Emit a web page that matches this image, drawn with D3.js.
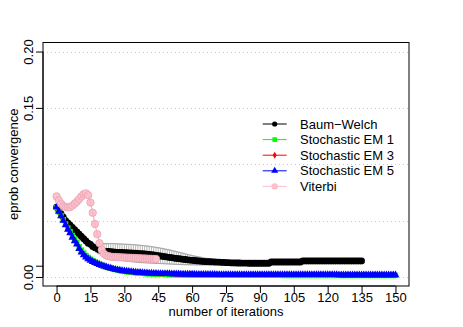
<!DOCTYPE html>
<html><head><meta charset="utf-8">
<script src="https://cdn.jsdelivr.net/npm/d3@7"></script>
<style>
body{margin:0;background:#fff}
svg{display:block}
text{font-family:"Liberation Sans",Arial,Helvetica,sans-serif;font-size:13px;fill:#000}
</style>
</head><body>
<svg id="chart" width="463" height="327"></svg>
<script>
// ---------- data ----------
const seriesNames = ["Baum\u2212Welch","Stochastic EM 1","Stochastic EM 3","Stochastic EM 5","Viterbi"];
const seriesColors = ["#000000","#00ff00","#ff0000","#0000ff","#ffc0cb"];

const xTicks = [0,15,30,45,60,75,90,105,120,135,150];
const yTicks = [0,0.01,0.15,0.2];
const yTickLabels = ["0.00","","0.15","0.20"];
const gridValues = [0,0.05,0.1,0.15,0.2];

const baumWelch = [
0.062,0.059,0.056,0.053,0.05,0.048,0.046,0.044,0.042,0.04,
0.038,0.036,0.034,0.032,0.03,0.029,0.027,0.026,0.025,0.024,
0.0235,0.023,0.0228,0.0226,0.0224,0.0222,0.022,0.0219,0.0218,0.0217,
0.0216,0.0215,0.0214,0.0213,0.0212,0.0211,0.021,0.0208,0.0206,0.0204,
0.0202,0.02,0.0198,0.0195,0.0192,0.0189,0.0186,0.0183,0.018,0.0177,
0.0174,0.0171,0.0168,0.0165,0.0162,0.016,0.0157,0.0155,0.0152,0.015,
0.0148,0.0146,0.0144,0.0142,0.014,0.0138,0.0137,0.0136,0.0135,0.0134,
0.0133,0.0132,0.0131,0.013,0.0129,0.0128,0.0127,0.0126,0.0125,0.0125,
0.0124,0.0124,0.0123,0.0123,0.0123,0.0122,0.0122,0.0122,0.0122,0.0122,
0.0122,0.0122,0.0122,0.0122,0.0122,0.0133,0.0133,0.0133,0.0133,0.0133,
0.0133,0.0133,0.0133,0.0133,0.0133,0.0133,0.0133,0.0133,0.0133,0.0142,
0.0142,0.0142,0.0142,0.0142,0.0142,0.0142,0.0142,0.0142,0.0142,0.0142,
0.0142,0.0142,0.0142,0.0142,0.0142,0.0142,0.0142,0.0142,0.0142,0.0142,
0.0142,0.0142,0.0142,0.0142,0.0142,0.0142];

const stochEM1 = [
0.0615,0.058,0.0545,0.0508,0.047,0.0433,0.0402,0.0368,0.0337,0.0307,
0.0268,0.0238,0.0212,0.019,0.0173,0.0158,0.0145,0.0133,0.0122,0.0113,
0.0105,0.0097,0.009,0.0083,0.0077,0.0071,0.0066,0.0061,0.0057,0.0053,
0.005,0.0047,0.0044,0.0042,0.004,0.0038,0.0036,0.0034,0.0033,0.0031,
0.003,0.0029,0.0028,0.0027,0.0026,0.0025,0.0024,0.0023,0.0023,0.0022,
0.0022,0.0021,0.0021,0.002,0.002,0.002,0.0019,0.0019,0.0019,0.0018,
0.0018,0.0018,0.0018,0.0017,0.0017,0.0017,0.0017,0.0016,0.0016,0.0016,
0.0016,0.0016,0.0016,0.0016,0.0016,0.0015,0.0015,0.0015,0.0015,0.0015,
0.0015,0.0015,0.0015,0.0015,0.0015,0.0015,0.0015,0.0015,0.0015,0.0015,
0.0015,0.0015,0.0015,0.0015,0.0015,0.0015,0.0015,0.0015,0.0015,0.0015,
0.0014,0.0014,0.0014,0.0014,0.0014,0.0014,0.0014,0.0014,0.0014,0.0014,
0.0014,0.0014,0.0014,0.0014,0.0014,0.0014,0.0014,0.0014,0.0014,0.0014,
0.0014,0.0014,0.0014,0.0014,0.0014,0.0014,0.0014,0.0014,0.0014,0.0014,
0.0014,0.0014,0.0014,0.0014,0.0014,0.0014,0.0014,0.0014,0.0014,0.0014,
0.0014,0.0014,0.0014,0.0014,0.0014,0.0014,0.0014,0.0014,0.0014,0.0014,
0.0014];

const stochEM3 = [
0.0618,0.058,0.0542,0.0503,0.0465,0.0426,0.0395,0.0358,0.0327,0.0297,
0.0258,0.0228,0.0203,0.0182,0.0166,0.0152,0.014,0.0129,0.0119,0.0111,
0.0103,0.0096,0.0089,0.0083,0.0078,0.0073,0.0068,0.0064,0.006,0.0057,
0.0054,0.0051,0.0049,0.0047,0.0045,0.0043,0.0041,0.004,0.0038,0.0037,
0.0036,0.0035,0.0034,0.0033,0.0032,0.0031,0.0031,0.003,0.003,0.0029,
0.0029,0.0028,0.0028,0.0027,0.0027,0.0026,0.0026,0.0026,0.0025,0.0025,
0.0025,0.0025,0.0024,0.0024,0.0024,0.0024,0.0023,0.0023,0.0023,0.0023,
0.0023,0.0022,0.0022,0.0022,0.0022,0.0022,0.0022,0.0021,0.0021,0.0021,
0.0021,0.0021,0.0021,0.0021,0.0021,0.0021,0.0021,0.0021,0.0021,0.0021,
0.0021,0.0021,0.0021,0.0021,0.0021,0.0021,0.0021,0.0021,0.0021,0.0021,
0.002,0.002,0.002,0.002,0.002,0.002,0.002,0.002,0.002,0.002,
0.002,0.002,0.002,0.002,0.002,0.002,0.002,0.002,0.002,0.002,
0.002,0.002,0.002,0.002,0.002,0.0019,0.0019,0.0019,0.0019,0.0019,
0.0019,0.0019,0.0019,0.0019,0.0019,0.0019,0.0019,0.0019,0.0019,0.0019,
0.0019,0.0019,0.0019,0.0019,0.0019,0.0019,0.0019,0.0019,0.0019,0.0019,
0.0019];

const stochEM5 = [
0.062,0.058,0.054,0.05,0.046,0.042,0.039,0.035,0.032,0.029,
0.025,0.022,0.0195,0.0175,0.016,0.0147,0.0136,0.0126,0.0117,0.0109,
0.0102,0.0095,0.0088,0.0082,0.0077,0.0072,0.0067,0.0063,0.0059,0.0056,
0.0053,0.005,0.0048,0.0046,0.0044,0.0042,0.004,0.0039,0.0037,0.0036,
0.0035,0.0034,0.0033,0.0032,0.0031,0.003,0.003,0.0029,0.0029,0.0028,
0.0028,0.0027,0.0027,0.0026,0.0026,0.0025,0.0025,0.0025,0.0024,0.0024,
0.0024,0.0024,0.0023,0.0023,0.0023,0.0023,0.0022,0.0022,0.0022,0.0022,
0.0022,0.0021,0.0021,0.0021,0.0021,0.0021,0.0021,0.002,0.002,0.002,
0.002,0.002,0.002,0.002,0.002,0.002,0.002,0.002,0.002,0.002,
0.002,0.002,0.002,0.002,0.002,0.002,0.002,0.002,0.002,0.002,
0.0019,0.0019,0.0019,0.0019,0.0019,0.0019,0.0019,0.0019,0.0019,0.0019,
0.0019,0.0019,0.0019,0.0019,0.0019,0.0019,0.0019,0.0019,0.0019,0.0019,
0.0019,0.0019,0.0019,0.0019,0.0019,0.0018,0.0018,0.0018,0.0018,0.0018,
0.0018,0.0018,0.0018,0.0018,0.0018,0.0018,0.0018,0.0018,0.0018,0.0018,
0.0018,0.0018,0.0018,0.0018,0.0018,0.0018,0.0018,0.0018,0.0018,0.0018,
0.0018];

const viterbi = [
0.0715,0.068,0.065,0.063,0.062,0.0618,0.062,0.0633,0.065,0.0668,
0.069,0.0715,0.0735,0.0742,0.0725,0.066,0.057,0.047,0.038,0.03,
0.024,0.0205,0.019,0.0185,0.018,0.0178,0.0177,0.0176,0.0175,0.0174,
0.0173,0.0172,0.0171,0.017,0.0169,0.0168,0.0167,0.0166,0.0165,0.0164,
0.0163,0.0162,0.0161,0.016,0.016];

// Baum-Welch error bars (iterations 18..68)
const errStart = 18;
const errHigh = [
0.0285,0.029,0.0293,0.0295,0.0296,0.0296,0.0296,0.0296,0.0295,0.0294,
0.0293,0.0292,0.0291,0.029,0.0289,0.0288,0.0287,0.0285,0.0283,0.0281,
0.0279,0.0277,0.0275,0.0272,0.0269,0.0266,0.0263,0.026,0.0256,0.0252,
0.0248,0.0244,0.024,0.0235,0.023,0.0225,0.022,0.0215,0.021,0.0205,
0.02,0.0195,0.019,0.0186,0.0182,0.0178,0.0174,0.017,0.0166,0.0163,
0.016];
const errLow = [
0.0215,0.0205,0.0195,0.0187,0.018,0.0174,0.0168,0.0163,0.0158,0.0154,
0.015,0.0147,0.0144,0.0141,0.0138,0.0136,0.0134,0.0132,0.013,0.0128,
0.0127,0.0126,0.0125,0.0124,0.0123,0.0122,0.0121,0.012,0.0119,0.0118,
0.0117,0.0116,0.0115,0.0114,0.0113,0.0112,0.0111,0.011,0.011,0.0109,
0.0109,0.0108,0.0108,0.0108,0.0107,0.0107,0.0107,0.0107,0.0107,0.0107,
0.0107];

// ---------- layout ----------
const svg = d3.select("#chart");
const box = {l:43, r:409, t:42.5, b:286};
const xlim = [0,150], ylim = [0,0.2];
const xp = 0.04*(xlim[1]-xlim[0]), yp = 0.04*(ylim[1]-ylim[0]);
const x = d3.scaleLinear().domain([xlim[0]-xp, xlim[1]+xp]).range([box.l, box.r]);
const y = d3.scaleLinear().domain([ylim[0]-yp, ylim[1]+yp]).range([box.b, box.t]);
const FONT = '"Liberation Sans",Arial,sans-serif';

// grid
svg.append("g").selectAll("line").data(gridValues).join("line")
  .attr("x1", box.l).attr("x2", box.r)
  .attr("y1", d => Math.round(y(d))+0.5).attr("y2", d => Math.round(y(d))+0.5)
  .attr("stroke", "#c8c8c8").attr("stroke-width", 1).attr("stroke-dasharray", "1,3");

// error bars
const eb = svg.append("g").attr("stroke", "#9a9a9a").attr("stroke-width", 0.7).attr("fill","none");
errHigh.forEach((hi, k) => {
  const it = errStart + k, lo = errLow[k], cx = x(it);
  eb.append("line").attr("x1", cx).attr("x2", cx).attr("y1", y(lo)).attr("y2", y(hi));
  eb.append("line").attr("x1", cx-2).attr("x2", cx+2).attr("y1", y(hi)).attr("y2", y(hi));
  eb.append("line").attr("x1", cx-2).attr("x2", cx+2).attr("y1", y(lo)).attr("y2", y(lo));
});

const line = d3.line().x((d,i) => x(i)).y(d => y(d));
const allSeries = [baumWelch, stochEM1, stochEM3, stochEM5, viterbi];
const symbols = [
  {type: "circle", r: 3.4},
  {type: d3.symbolSquare, size: 30},
  {type: d3.symbolDiamond, size: 12},
  {type: d3.symbolTriangle, size: 26},
  {type: "circle", r: 3.7}
];
const legendSymbols = [
  {type: "circle", r: 2.6},
  {type: d3.symbolSquare, size: 22},
  {type: d3.symbolDiamond, size: 14},
  {type: d3.symbolTriangle, size: 22},
  {type: "circle", r: 3.2}
];
const strokeFor = k => k === 4 ? "#e6a3b3" : "none";

function drawMarks(g, data, sym, color, k) {
  if (sym.type === "circle") {
    g.selectAll("circle").data(data).join("circle")
      .attr("cx", (d,i) => x(i)).attr("cy", d => y(d)).attr("r", sym.r)
      .attr("fill", color).attr("stroke", strokeFor(k)).attr("stroke-width", 0.8);
  } else {
    const s = d3.symbol().type(sym.type).size(sym.size);
    g.selectAll("path.m").data(data).join("path").attr("class","m")
      .attr("d", s).attr("transform", (d,i) => `translate(${x(i)},${y(d)})`)
      .attr("fill", color);
  }
}

allSeries.forEach((data, k) => {
  const g = svg.append("g");
  g.append("path").attr("d", line(data)).attr("fill","none")
    .attr("stroke", seriesColors[k]).attr("stroke-width", 1);
  drawMarks(g, data, symbols[k], seriesColors[k], k);
  if (k === 4) {
    g.append("path").attr("d", line(data)).attr("fill","none")
      .attr("stroke", "#f0b0bf").attr("stroke-width", 0.8);
  }
});

// box
svg.append("rect").attr("x", box.l).attr("y", box.t)
  .attr("width", box.r-box.l).attr("height", box.b-box.t)
  .attr("fill","none").attr("stroke","#000").attr("stroke-width",1);

// axes
const xAxis = d3.axisBottom(x).tickValues(xTicks).tickSize(7).tickSizeOuter(0).tickPadding(0);
const gx = svg.append("g").attr("transform", `translate(0,${box.b})`).call(xAxis);
gx.select(".domain").attr("d", `M${x(xTicks[0])},0H${x(xTicks[xTicks.length-1])}`);
gx.selectAll("text").attr("y", 6.5).attr("dy", "0.71em").style("font-size","13px")
  .style("font-family", FONT);

const yAxis = d3.axisLeft(y).tickValues(yTicks).tickFormat((d,i) => yTickLabels[i]).tickSize(7).tickSizeOuter(0);
const gy = svg.append("g").attr("transform", `translate(${box.l},0)`).call(yAxis);
gy.select(".domain").attr("d", `M0,${y(yTicks[0])}V${y(yTicks[yTicks.length-1])}`);
gy.selectAll("text").attr("transform","rotate(-90)").attr("x",0).attr("y",-10).attr("dy",0)
  .attr("text-anchor","middle").style("font-size","13px")
  .style("font-family", FONT);

// axis titles
svg.append("text").attr("x", (box.l+box.r)/2).attr("y", 316).attr("text-anchor","middle")
  .text("number of iterations");
svg.append("text").attr("transform", `translate(17.5,${(box.t+box.b)/2}) rotate(-90)`)
  .attr("text-anchor","middle").text("eprob convergence");

// legend
const lg = svg.append("g");
seriesNames.forEach((name, k) => {
  const cy = 124 + k*15.6;
  lg.append("line").attr("x1", 262.7).attr("x2", 286.7).attr("y1", cy).attr("y2", cy)
    .attr("stroke", seriesColors[k]).attr("stroke-width", 1);
  const sym = legendSymbols[k];
  if (sym.type === "circle") {
    lg.append("circle").attr("cx", 274.7).attr("cy", cy).attr("r", sym.r).attr("fill", seriesColors[k]);
  } else {
    lg.append("path").attr("d", d3.symbol().type(sym.type).size(sym.size))
      .attr("transform", `translate(274.7,${cy})`).attr("fill", seriesColors[k]);
  }
  lg.append("text").attr("x", 300).attr("y", cy + 4.5).text(name);
});
</script>
</body></html>
